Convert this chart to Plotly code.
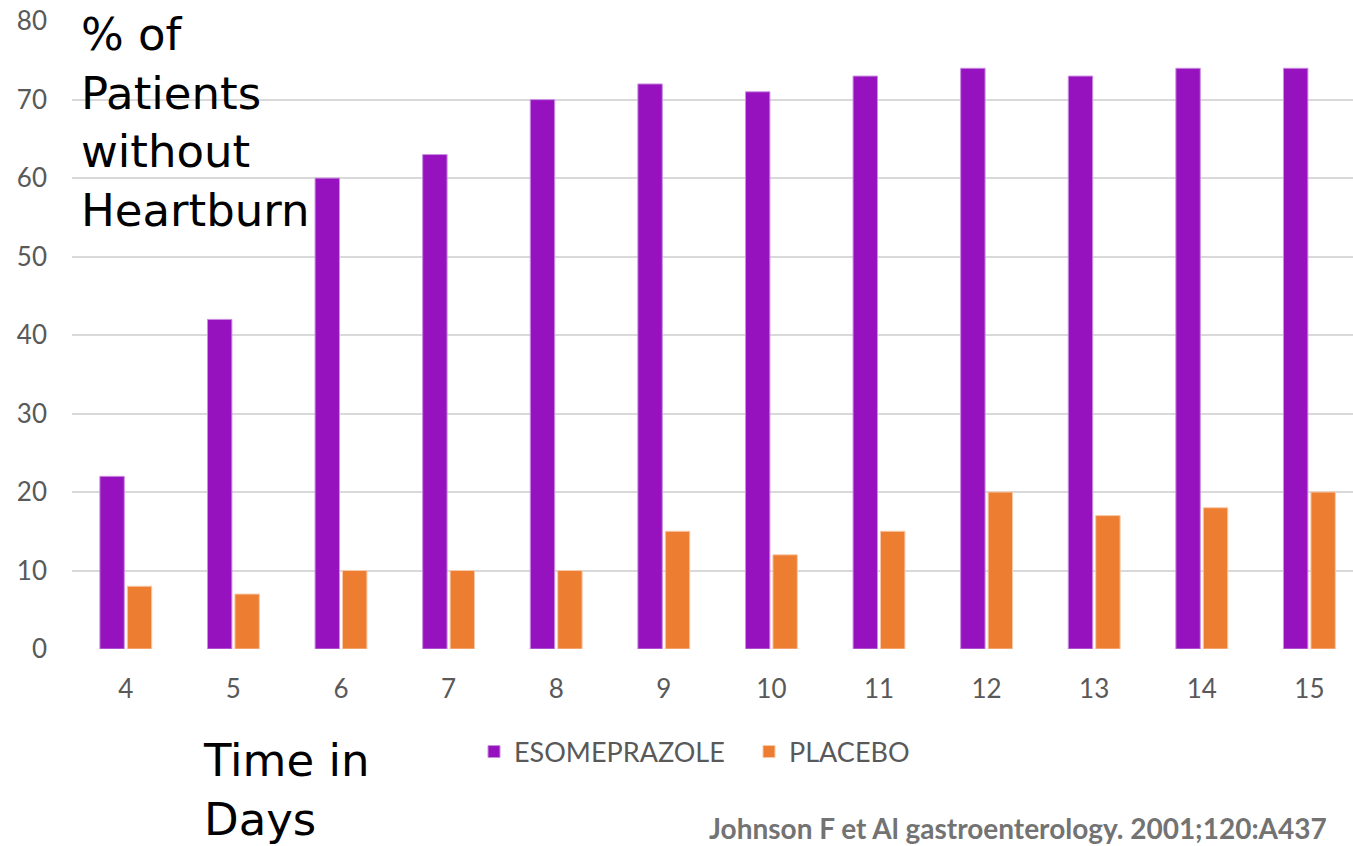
import plotly.graph_objects as go

days = [4, 5, 6, 7, 8, 9, 10, 11, 12, 13, 14, 15]
esomeprazole = [22, 42, 60, 63, 70, 72, 71, 73, 74, 73, 74, 74]
placebo = [8, 7, 10, 10, 10, 15, 12, 15, 20, 17, 18, 20]
y_ticks = [0, 10, 20, 30, 40, 50, 60, 70, 80]

# the page's body margin is removed below, so figure pixels == window pixels
W, H = 1353, 846
PL, PT, PB = 72, 21, 649          # plot edges in window pixels
ml, mr, mt = PL, 0, PT
mb = H - PB
PW = W - ml - mr
PH = H - mt - mb


def px(x):
    return (x - PL) / PW


def py(y):
    return (PB - y) / PH


fig = go.Figure()
fig.add_trace(go.Bar(x=days, y=esomeprazole, name="ESOMEPRAZOLE",
                     marker=dict(color="#9612BE", line=dict(color="#C98EE0", width=1))))
fig.add_trace(go.Bar(x=days, y=placebo, name="PLACEBO",
                     marker=dict(color="#ED7D31", line=dict(color="#F8C9A8", width=1))))

cat_px = 107.6
x_end = 3.5 + PW / cat_px

fig.update_layout(
    width=W, height=H,
    margin=dict(l=ml, r=mr, t=mt, b=mb, autoexpand=False),
    plot_bgcolor="white", paper_bgcolor="white",
    barmode="group", bargap=0.49, bargroupgap=0.11,
    font=dict(family="Lato, Open Sans, sans-serif", color="#595959"),
    xaxis=dict(range=[3.5, x_end], tickmode="array", tickvals=days,
               ticktext=[str(d) for d in days], showgrid=False, zeroline=False,
               showline=False, ticks="", tickfont=dict(size=26, color="#595959"),
               ticklabelstandoff=22, automargin=False),
    yaxis=dict(range=[0, 80.02], tickmode="array", tickvals=y_ticks, showgrid=True,
               gridcolor="#D9D9D9", gridwidth=1.5, zeroline=False, showline=False,
               ticks="", tickfont=dict(size=26, color="#595959"), ticklabelstandoff=24,
               ticklabeloverflow="allow", automargin=False),
    showlegend=True,
    legend=dict(orientation="h", x=px(474), xanchor="left",
                y=py(752), yanchor="middle",
                font=dict(size=27, color="#595959"), itemwidth=30,
                entrywidth=230, entrywidthmode="pixels",
                bgcolor="rgba(0,0,0,0)"),
)

fig.add_annotation(xref="paper", yref="paper", x=px(80), y=py(122),
                   xanchor="left", yanchor="middle", align="left", showarrow=False,
                   borderpad=0,
                   text="% of<br>Patients<br>without<br>Heartburn",
                   font=dict(family="DejaVu Sans, sans-serif", size=45, color="black"))
fig.add_annotation(xref="paper", yref="paper", x=px(202), y=py(790),
                   xanchor="left", yanchor="middle", align="left", showarrow=False,
                   borderpad=0,
                   text="Time in<br>Days",
                   font=dict(family="DejaVu Sans, sans-serif", size=45, color="black"))
fig.add_annotation(xref="paper", yref="paper", x=px(708), y=py(828),
                   xanchor="left", yanchor="middle", align="left", showarrow=False,
                   borderpad=0,
                   text="<b>Johnson F et Al gastroenterology. 2001;120:A437</b>",
                   font=dict(family="Lato, Open Sans, sans-serif", size=28, color="#737373"))

fig.write_html("out.html", config={"displayModeBar": False},
               post_script="document.body.style.margin='0';document.body.style.overflow='hidden';")
